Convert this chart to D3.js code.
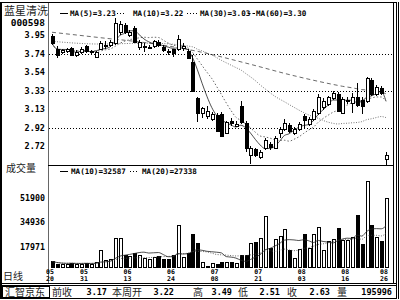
<!DOCTYPE html>
<html><head><meta charset="utf-8">
<script src="https://cdn.jsdelivr.net/npm/d3@7"></script>
<style>body{margin:0;background:#fff}svg{display:block}</style>
</head><body><svg id="c" width="400" height="300"></svg>
<script>
// ---------- data ----------
const opens = [3.94,3.80,3.76,3.77,3.81,3.73,3.76,3.83,3.76,3.71,
3.80,3.83,3.84,3.86,3.98,4.06,3.95,4.03,3.82,3.82,
3.81,3.83,3.87,3.82,3.77,3.79,3.79,3.81,3.77,3.65,
3.25,3.09,3.06,3.02,3.07,3.08,2.87,3.00,2.95,3.17,
2.98,2.63,2.69,2.60,2.70,2.75,2.70,2.87,2.91,2.96,
2.87,2.91,3.06,2.97,3.02,3.09,3.15,3.19,3.25,3.30,
3.09,3.22,3.20,3.26,3.23,3.22,3.45,3.30,3.37,2.58];
const closes = [3.86,3.73,3.78,3.79,3.73,3.76,3.80,3.77,3.77,3.76,
3.86,3.84,3.87,4.08,4.07,3.98,3.98,3.87,3.87,3.83,
3.82,3.88,3.84,3.78,3.76,3.75,3.91,3.83,3.70,3.33,
3.09,3.14,3.11,3.08,2.89,2.84,2.99,2.98,2.97,2.99,
2.70,2.70,2.63,2.66,2.79,2.71,2.81,2.91,2.98,2.89,
2.91,2.97,3.01,3.02,3.11,3.26,3.22,3.26,3.31,3.11,
3.24,3.23,3.26,3.18,3.17,3.48,3.30,3.38,3.31,2.63];
const highs = [3.96,3.83,3.80,3.81,3.82,3.78,3.82,3.84,3.78,3.77,
3.88,3.88,3.90,4.14,4.10,4.08,4.00,4.05,3.90,3.86,
3.84,3.90,3.89,3.84,3.79,3.80,3.95,3.86,3.79,3.73,
3.27,3.16,3.17,3.10,3.09,3.10,3.00,3.03,3.00,3.22,
3.00,2.72,2.70,2.68,2.81,2.77,2.83,2.93,3.02,2.98,
2.93,2.99,3.08,3.04,3.13,3.30,3.25,3.28,3.33,3.32,
3.26,3.26,3.31,3.42,3.26,3.49,3.47,3.40,3.39,2.66];
const lows = [3.84,3.70,3.74,3.75,3.72,3.71,3.74,3.75,3.74,3.70,
3.78,3.80,3.82,3.84,3.95,3.96,3.93,3.86,3.78,3.76,
3.79,3.81,3.82,3.76,3.73,3.71,3.77,3.77,3.68,3.32,
2.99,3.03,3.02,3.00,2.88,2.83,2.86,2.95,2.93,2.97,
2.66,2.53,2.60,2.58,2.68,2.68,2.69,2.81,2.89,2.87,
2.85,2.89,2.92,2.95,3.00,3.07,3.12,3.17,3.23,3.10,
3.08,3.19,3.09,3.16,3.08,3.20,3.28,3.28,3.29,2.51];
const volumes = [8000,6500,6000,6200,7000,6000,6500,7200,6000,7500,
15900,9000,10000,24200,24200,12400,11700,13800,12400,10500,
9500,11000,11700,10000,9500,12400,33200,11000,13800,27000,
20700,7600,4800,6900,6200,7600,7600,7600,6900,12400,
12400,20700,21400,24000,39400,17300,23500,25600,30400,16000,
10400,16600,27000,17000,27000,31800,16000,22000,23500,31000,
22800,22800,24900,40000,20000,64000,33000,25000,22000,52000];
// 30/60-day averages before enough history exists in the window
const ma30Head = [[0,3.88],[10,3.85],[20,3.86]];
const ma60Head = [[0,3.98],[10,3.92],[20,3.86],[30,3.77],[40,3.64],[50,3.50]];

const dateTickIndex = [0,7,16,25,34,43,52,61,69];
const dateTickMonth = ["05","05","06","06","07","07","08","08","08"];
const dateTickDay   = ["20","31","13","24","08","21","03","16","26"];
const priceTicks = [3.95,3.74,3.54,3.33,3.13,2.92,2.72];
const priceGrid = [3.74,3.33,2.92];
const volTicks = [51900,34936,17971];
const stockName = "蓝星清洗", stockCode = "000598";
const priceLegend = ["MA(5)=3.23","MA(10)=3.22","MA(30)=3.03","MA(60)=3.30"];
const volLegend = ["MA(10)=32587","MA(20)=27338"];
const infoLabels = ["前收","本周开","高","低","收","量"];
const infoValues = ["3.17","3.22","3.49","2.51","2.63","195996"];
const brand = "汇智京东";

// ---------- drawing ----------
const svg = d3.select("#c");
const n = closes.length;
const MONO = "'DejaVu Sans Mono', monospace";
const CJK = "'Noto Sans CJK SC', sans-serif";
const L = 48, R = 393, T = 3, PB = 165, VB = 267;

const x = d3.scaleLinear().domain([0, n-1]).range([52, 386]);
const y = d3.scaleLinear().domain([2.92, 3.74]).range([128.3, 54]);
const yv = d3.scaleLinear().domain([17971, 51900]).range([247, 198]);

// frames
const g0 = svg.append("g").attr("shape-rendering","crispEdges").attr("fill","none").attr("stroke","#000");
g0.append("rect").attr("x",1.5).attr("y",2.5).attr("width",395).attr("height",296).attr("stroke-width",1);
g0.append("line").attr("x1",0.5).attr("x2",0.5).attr("y1",2).attr("y2",299);
g0.append("line").attr("x1",L+0.5).attr("x2",L+0.5).attr("y1",T).attr("y2",283).attr("stroke","#666");
g0.append("line").attr("x1",R+0.5).attr("x2",R+0.5).attr("y1",T).attr("y2",283);
g0.append("line").attr("x1",398.5).attr("x2",398.5).attr("y1",2).attr("y2",299);
g0.append("line").attr("x1",L).attr("x2",R).attr("y1",PB+0.5).attr("y2",PB+0.5);
g0.append("line").attr("x1",1).attr("x2",397).attr("y1",283.5).attr("y2",283.5);
g0.append("line").attr("x1",1).attr("x2",397).attr("y1",285.5).attr("y2",285.5);
g0.append("rect").attr("x",2.5).attr("y",286.5).attr("width",47).attr("height",11);

// grid
svg.append("g").selectAll("line").data(priceGrid).join("line")
  .attr("x1",L+1).attr("x2",R).attr("y1",d=>Math.round(y(d))+0.5).attr("y2",d=>Math.round(y(d))+0.5)
  .attr("stroke","#000").attr("stroke-dasharray","1,2").attr("shape-rendering","crispEdges");

// price labels
svg.append("g").selectAll("text").data(priceTicks).join("text")
  .attr("x",45).attr("y",d=>y(d)+3).attr("text-anchor","end")
  .attr("font-family",MONO).attr("font-weight","bold").attr("font-size",8.5).text(d=>d.toFixed(2));
svg.append("text").attr("x",4).attr("y",15).attr("font-family",CJK).attr("font-size",11).attr("fill","#222").text(stockName);
svg.append("text").attr("x",45).attr("y",26).attr("text-anchor","end").attr("font-family",MONO).attr("font-weight","bold").attr("font-size",9.5).text(stockCode);

// MAs
function ma(arr, k){ return arr.map((_,i)=> i>=k-1 ? d3.mean(arr.slice(i-k+1,i+1)) : d3.mean(arr.slice(0,i+1))); }
function maFull(arr,k){ return arr.map((_,i)=> i>=k-1 ? d3.mean(arr.slice(i-k+1,i+1)) : null); }
const ma5 = ma(closes,5).map((v,i)=>[i,v]);
const ma10 = ma(closes,10).map((v,i)=>[i,v]);
const ma30 = ma30Head.concat(maFull(closes,30).map((v,i)=>[i,v]).filter(d=>d[1]!==null));
const ma60 = ma60Head.concat(maFull(closes,60).map((v,i)=>[i,v]).filter(d=>d[1]!==null));
const line = d3.line().x(d=>x(d[0])).y(d=>y(d[1])).curve(d3.curveMonotoneX);
const mas = [[ma60,"4,3","#444"],[ma30,"1,1.5","#555"],[ma10,"1.5,2","#444"],[ma5,null,"#222"]];
mas.forEach(([d,dash,col])=>{
  const p = svg.append("path").attr("d",line(d)).attr("fill","none").attr("stroke",col).attr("stroke-width",0.8);
  if(dash) p.attr("stroke-dasharray",dash);
});

// candles
const cg = svg.append("g").attr("shape-rendering","crispEdges");
d3.range(n).forEach(i=>{
  const xi = Math.round(x(i));
  const up = closes[i] >= opens[i];
  cg.append("line").attr("x1",xi+0.5).attr("x2",xi+0.5).attr("y1",Math.round(y(highs[i]))).attr("y2",Math.round(y(lows[i])))
    .attr("stroke","#000");
  const top = Math.round(y(Math.max(opens[i],closes[i])));
  const bot = Math.max(top+1, Math.round(y(Math.min(opens[i],closes[i]))));
  if(up){
    cg.append("rect").attr("x",xi-0.5).attr("y",top+0.5).attr("width",3).attr("height",bot-top)
      .attr("fill","#fff").attr("stroke","#000");
  } else {
    cg.append("rect").attr("x",xi-1).attr("y",top).attr("width",4).attr("height",bot-top+1).attr("fill","#000");
  }
});

// price legend
const lg = svg.append("g").attr("font-family",MONO).attr("font-weight","bold").attr("font-size",7.6);
const legX = [70,133,200,256], legMark = [[60,68,null],[117,125,"1,2"],[187,197,"1,2"],[248,255,"2.5,2"]];
priceLegend.forEach((t,k)=>{
  lg.append("text").attr("x",legX[k]).attr("y",16).text(t);
  const m = lg.append("line").attr("x1",legMark[k][0]).attr("x2",legMark[k][1]).attr("y1",13.5).attr("y2",13.5).attr("stroke","#000");
  if(legMark[k][2]) m.attr("stroke-dasharray",legMark[k][2]);
});

// volume
svg.append("text").attr("x",6).attr("y",172).attr("font-family",CJK).attr("font-size",10).attr("fill","#222").text("成交量");
svg.append("g").selectAll("text").data(volTicks).join("text")
  .attr("x",45).attr("y",d=>yv(d)+3).attr("text-anchor","end")
  .attr("font-family",MONO).attr("font-weight","bold").attr("font-size",8.3).text(d=>d);
const vg = svg.append("g").attr("shape-rendering","crispEdges");
d3.range(n).forEach(i=>{
  const xi = Math.round(x(i));
  const up = closes[i] >= opens[i];
  const top = Math.round(yv(volumes[i]));
  if(up){
    vg.append("rect").attr("x",xi-0.5).attr("y",top+0.5).attr("width",3).attr("height",VB-top)
      .attr("fill","#fff").attr("stroke","#000");
  } else {
    vg.append("rect").attr("x",xi-1).attr("y",top).attr("width",4).attr("height",VB-top+1).attr("fill","#000");
  }
});
const vma10 = ma(volumes,10).map((v,i)=>[i,v]);
const vma20 = ma(volumes,20).map((v,i)=>[i,v]);
const vline = d3.line().x(d=>x(d[0])).y(d=>yv(d[1])).curve(d3.curveMonotoneX);
svg.append("path").attr("d",vline(vma20)).attr("fill","none").attr("stroke","#444").attr("stroke-width",0.8).attr("stroke-dasharray","1,1.5");
svg.append("path").attr("d",vline(vma10)).attr("fill","none").attr("stroke","#222").attr("stroke-width",0.8);
const vl = svg.append("g").attr("font-family",MONO).attr("font-weight","bold").attr("font-size",7.6);
vl.append("line").attr("x1",60).attr("x2",68).attr("y1",171.5).attr("y2",171.5).attr("stroke","#000");
vl.append("text").attr("x",71).attr("y",174).text(volLegend[0]);
vl.append("line").attr("x1",130).attr("x2",138).attr("y1",171.5).attr("y2",171.5).attr("stroke","#000").attr("stroke-dasharray","1,2");
vl.append("text").attr("x",142).attr("y",174).text(volLegend[1]);

// date axis
svg.append("text").attr("x",3).attr("y",280).attr("font-family",CJK).attr("font-size",10).attr("fill","#222").text("日线");
const dg = svg.append("g").attr("font-family",MONO).attr("font-weight","bold").attr("font-size",6.5).attr("text-anchor","middle");
dateTickIndex.forEach((idx,k)=>{
  dg.append("text").attr("x",x(idx)-2).attr("y",274).text(dateTickMonth[k]);
  dg.append("text").attr("x",x(idx)-2).attr("y",281).text(dateTickDay[k]);
});

// info bar
svg.append("text").attr("x",5).attr("y",296).attr("font-family",CJK).attr("font-size",10).attr("fill","#222").text(brand);
const labX = [52,112,193,238,287,337];
const valX = [107,174,232,280,330,392];
infoLabels.forEach((t,k)=>{
  svg.append("text").attr("x",labX[k]).attr("y",296).attr("font-family",CJK).attr("font-size",10).attr("fill","#222").text(t);
  svg.append("text").attr("x",valX[k]).attr("y",295).attr("text-anchor","end").attr("font-family",MONO).attr("font-weight","bold").attr("font-size",8.5).text(infoValues[k]);
});
</script></body></html>
